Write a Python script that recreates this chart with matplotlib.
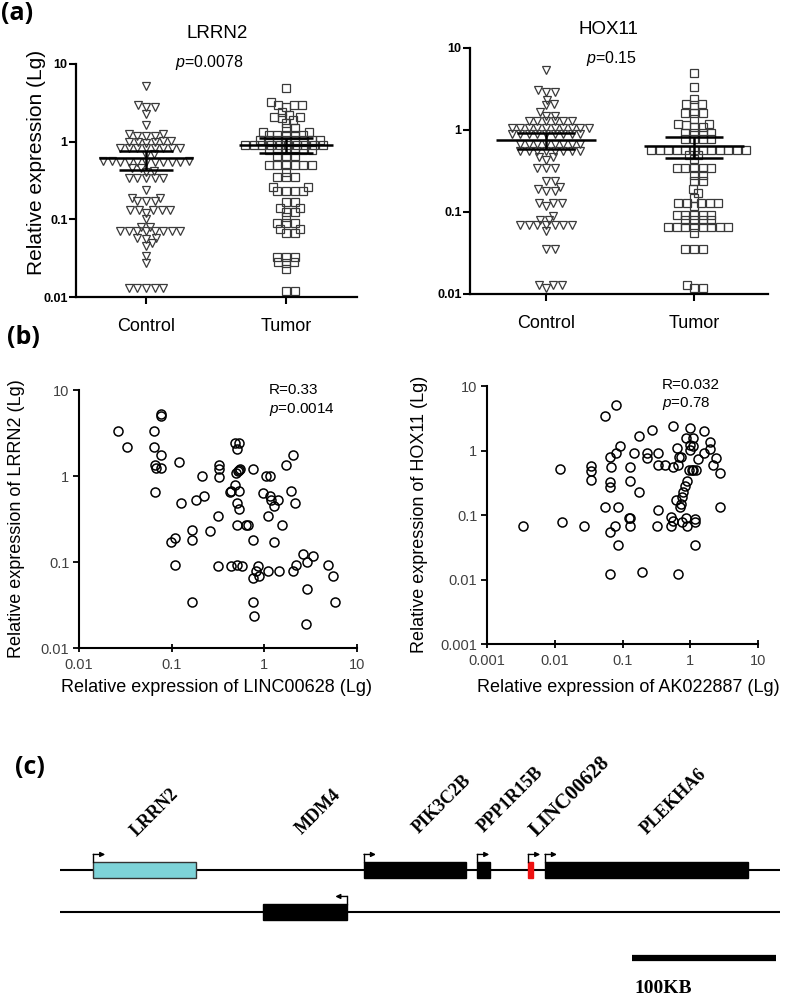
import matplotlib.pyplot as plt
import numpy as np
from matplotlib.patches import Rectangle
from matplotlib.ticker import NullLocator

plt.rcParams['font.family'] = ['Liberation Sans', 'DejaVu Sans']
plt.rcParams['mathtext.fontset'] = 'custom'
plt.rcParams['mathtext.it'] = 'Liberation Sans:italic'
plt.rcParams['mathtext.rm'] = 'Liberation Sans'

W, H = 787, 996

# ---------------- data ----------------
groups = ['Control', 'Tumor']

lrrn2_control = [5.2, 3.0, 2.8, 2.8, 2.3, 1.65,
                 1.25, 1.2, 1.2, 1.2, 1.25,
                 1.02, 1.0, 0.98, 1.0, 1.02, 0.97,
                 0.84, 0.83, 0.82, 0.84, 0.83, 0.82, 0.84, 0.83,
                 0.70, 0.68,
                 0.56, 0.55, 0.54, 0.55, 0.56, 0.55, 0.54, 0.55, 0.56, 0.55, 0.54,
                 0.46, 0.46, 0.42, 0.41,
                 0.34, 0.34, 0.34, 0.34, 0.34,
                 0.24, 0.19, 0.19, 0.17, 0.17, 0.17,
                 0.13, 0.13, 0.13, 0.13, 0.13, 0.12, 0.10,
                 0.08, 0.08,
                 0.07, 0.07, 0.07, 0.07, 0.07, 0.07, 0.07, 0.07,
                 0.057, 0.056, 0.057, 0.05, 0.045, 0.034, 0.027,
                 0.013, 0.013, 0.013, 0.013, 0.013]
lrrn2_tumor = [4.9, 3.2, 3.0, 3.0, 3.0, 2.8,
               2.4, 2.2, 2.1, 2.1, 2.0, 1.9,
               1.75, 1.5, 1.5, 1.35, 1.35,
               1.22, 1.22, 1.22, 1.22, 1.22,
               1.05, 1.05, 1.05, 1.05, 1.05, 1.05, 1.05, 1.05,
               0.9, 0.9, 0.9, 0.9, 0.9, 0.9, 0.9, 0.9, 0.9, 0.9,
               0.78, 0.78, 0.78, 0.78, 0.78, 0.78,
               0.66, 0.66, 0.66,
               0.5, 0.5, 0.5, 0.5, 0.5, 0.5,
               0.41, 0.35, 0.35, 0.35,
               0.26, 0.26, 0.23, 0.23, 0.23, 0.23,
               0.165, 0.165, 0.14, 0.14, 0.125, 0.125, 0.107,
               0.09, 0.09, 0.09, 0.075, 0.075, 0.067, 0.067,
               0.033, 0.033, 0.033, 0.028, 0.028, 0.027, 0.023,
               0.012, 0.012]
lrrn2_mean = [0.61, 0.90]
lrrn2_lo = [0.43, 0.72]
lrrn2_hi = [0.75, 1.13]

hox11_control = [5.35, 3.1, 2.9, 2.9, 2.3, 2.1, 2.0, 1.65, 1.5, 1.5,
                 1.3, 1.3, 1.3, 1.3, 1.3, 1.3,
                 1.05, 1.05, 1.05, 1.05, 1.05, 1.05, 1.05, 1.05, 1.05, 1.05,
                 0.9, 0.9, 0.9, 0.9, 0.9, 0.9, 0.9, 0.9, 0.9,
                 0.68, 0.68, 0.68, 0.68, 0.68, 0.68, 0.68, 0.68,
                 0.55, 0.55, 0.55, 0.55, 0.55, 0.55, 0.55, 0.55,
                 0.47, 0.47, 0.43,
                 0.34, 0.34, 0.34, 0.24, 0.24, 0.2, 0.19, 0.18, 0.18,
                 0.13, 0.13, 0.13, 0.12, 0.09, 0.08, 0.08,
                 0.07, 0.07, 0.07, 0.07, 0.07, 0.07, 0.07,
                 0.058, 0.035, 0.035, 0.013, 0.013, 0.013, 0.012]
hox11_tumor = [4.96, 3.3, 2.4, 2.1, 2.1, 2.0, 1.6, 1.6, 1.6,
               1.35, 1.2, 1.2, 1.15, 1.1, 1.1,
               0.92, 0.92, 0.92, 0.92, 0.78, 0.78, 0.78, 0.78,
               0.57, 0.57, 0.57, 0.57, 0.57, 0.57, 0.57, 0.57, 0.57, 0.57, 0.57, 0.57,
               0.5, 0.5, 0.44,
               0.34, 0.34, 0.34, 0.34, 0.34, 0.28, 0.28, 0.24, 0.24, 0.19, 0.17,
               0.15, 0.13, 0.13, 0.13, 0.13, 0.13, 0.12,
               0.093, 0.093, 0.093, 0.093, 0.093, 0.08, 0.08, 0.08, 0.08,
               0.066, 0.066, 0.066, 0.066, 0.066, 0.066, 0.066, 0.066,
               0.055, 0.035, 0.035, 0.035, 0.013, 0.012, 0.012]
hox11_mean = [0.75, 0.63]
hox11_lo = [0.59, 0.45]
hox11_hi = [0.93, 0.83]

linc_x = [0.0265, 0.0333, 0.0646, 0.0762, 0.0762, 0.0646, 0.0762, 0.0656, 0.0684, 0.0775,
          0.0656, 0.119, 0.127, 0.184, 0.214, 0.226, 0.0992, 0.108, 0.108, 0.166,
          0.166, 0.167, 0.262, 0.320, 0.328, 0.328, 0.328, 0.320, 0.439, 0.421,
          0.439, 0.505, 0.570, 0.487, 0.538, 0.505, 0.487, 0.496, 0.516, 0.538,
          0.552, 0.538, 0.505, 0.538, 0.505, 0.635, 0.662, 0.762, 0.762, 0.750,
          0.813, 0.847, 0.883, 0.762, 0.780, 0.959, 1.03, 1.15, 1.09, 1.15,
          1.18, 1.28, 1.42, 1.28, 1.55, 1.09, 1.43, 1.71, 2.05, 1.95,
          2.12, 2.02, 2.19, 2.63, 3.31, 2.92, 2.92, 2.81, 4.92, 5.57, 5.79]
lrrn2_y = [3.34, 2.20, 3.34, 5.22, 4.99, 2.20, 1.76, 1.35, 1.23, 1.23,
           0.644, 1.45, 0.484, 0.520, 1.00, 0.578, 0.171, 0.190, 0.0914, 0.233,
           0.178, 0.034, 0.231, 0.339, 1.35, 1.20, 0.986, 0.0891, 0.661, 0.644,
           0.0891, 0.0914, 0.0906, 2.40, 2.40, 2.08, 0.789, 1.08, 1.13, 1.18,
           1.20, 0.661, 0.484, 0.416, 0.271, 0.271, 0.271, 1.21, 0.182, 0.0652,
           0.078, 0.0891, 0.0683, 0.034, 0.0234, 0.632, 1.00, 1.00, 0.339, 0.578,
           0.529, 0.443, 0.529, 0.171, 0.271, 0.078, 0.078, 1.35, 1.76, 0.673,
           0.484, 0.078, 0.0914, 0.125, 0.119, 0.100, 0.0486, 0.0190, 0.0914, 0.0683, 0.034]

ak_x = [0.00341, 0.0120, 0.0130, 0.0269, 0.0338, 0.0338, 0.0338, 0.0551, 0.0793, 0.0653,
        0.0793, 0.0918, 0.0677, 0.0653, 0.0653, 0.0551, 0.0867, 0.0774, 0.0653, 0.0867,
        0.0653, 0.129, 0.129, 0.123, 0.130, 0.129, 0.150, 0.177, 0.177, 0.192,
        0.228, 0.228, 0.270, 0.339, 0.339, 0.339, 0.327, 0.426, 0.552, 0.552,
        0.516, 0.516, 0.552, 0.632, 0.655, 0.670, 0.619, 0.69, 0.735, 0.703,
        0.735, 0.751, 0.77, 0.841, 0.751, 0.871, 0.976, 0.91, 0.871, 0.91,
        0.95, 1.0, 1.0, 1.05, 1.1, 1.08, 1.08, 1.18, 1.18, 1.18,
        1.23, 1.32, 1.57, 1.61, 1.97, 1.97, 2.16, 2.42, 2.71, 2.71]
hox11_y = [0.0667, 0.525, 0.0778, 0.0667, 0.570, 0.478, 0.346, 3.42, 5.07, 0.798,
           0.921, 1.17, 0.557, 0.326, 0.272, 0.133, 0.133, 0.0667, 0.0545, 0.0337,
           0.0120, 0.557, 0.337, 0.0910, 0.0910, 0.0667, 0.921, 1.67, 0.228, 0.0130,
           0.921, 0.778, 2.07, 0.90, 0.591, 0.121, 0.0667, 0.591, 2.39, 0.557,
           0.0931, 0.0667, 0.080, 1.11, 0.591, 0.0120, 0.169, 0.798, 0.798, 0.133,
           0.150, 0.190, 0.228, 0.279, 0.0778, 1.57, 2.20, 0.337, 0.091, 0.0667,
           0.507, 1.01, 1.21, 0.507, 0.507, 1.57, 1.17, 0.0778, 0.087, 0.0337,
           0.507, 0.751, 0.921, 2.02, 1.36, 1.07, 0.591, 0.778, 0.45, 0.133]

genes = ['LRRN2', 'MDM4', 'PIK3C2B', 'PPP1R15B', 'LINC00628', 'PLEKHA6']
gene_start = [23.1, 140.8, 211.1, 289.8, 325.2, 336.8]   # kb
gene_end = [94.2, 199.5, 281.9, 298.6, 328.3, 478.0]
gene_strand = [1, -1, 1, 1, 1, 1]
gene_row = [0, 1, 0, 0, 0, 0]
locus_len = 500
scale_kb = 100

fig = plt.figure(figsize=(W / 100, H / 100), dpi=100)


def px_axes(x0, y0, x1, y1):
    return fig.add_axes([x0 / W, 1 - y1 / H, (x1 - x0) / W, (y1 - y0) / H])


def px_text(x, y, s, **kw):
    kw.setdefault('ha', 'center')
    kw.setdefault('va', 'center')
    fig.text(x / W, 1 - y / H, s, **kw)


def swarm(ax, xc, vals, dx_px, dy_px):
    # beeswarm in pixel space, elliptical footprint (tight rows like Prism)
    tr = ax.transData
    ys = tr.transform(np.column_stack([np.full(len(vals), xc), vals]))[:, 1]
    ys = ys * dx_px / dy_px
    d = dx_px
    px_per_unit = tr.transform((1, 1))[0] - tr.transform((0, 1))[0]
    placed = []
    offs = np.zeros(len(vals))
    for i in np.argsort(ys, kind='stable'):
        y = ys[i]
        cands = [0.0]
        for px_, py_ in placed:
            dy = y - py_
            if abs(dy) < d:
                dx = np.sqrt(d * d - dy * dy)
                cands += [px_ + dx, px_ - dx]
        cands.sort(key=abs)
        for c in cands:
            if all((c - px_) ** 2 + (y - py_) ** 2 >= d * d - 1e-6 for px_, py_ in placed):
                break
        placed.append((c, y))
        offs[i] = c
    return xc + offs / px_per_unit


def dot_panel(box, xlim, ctrl, tum, mean, lo, hi):
    ax = px_axes(*box)
    ax.set_yscale('log')
    ax.set_ylim(0.01, 10)
    ax.set_xlim(*xlim)
    for k, (vals, mk) in enumerate([(ctrl, 'v'), (tum, 's')]):
        xs = swarm(ax, k, vals, 8.6, 5.0)
        ax.plot(xs, vals, ls='none', marker=mk, ms=6, mfc='none', mec='#3a3a3a', mew=0.9)
        ax.hlines(mean[k], k - 0.335, k + 0.335, color='k', lw=1.8, zorder=3)
        ax.hlines([lo[k], hi[k]], k - 0.195, k + 0.195, color='k', lw=1.8, zorder=3)
        ax.vlines(k, lo[k], hi[k], color='k', lw=1.8, zorder=3)
    for s in ['top', 'right']:
        ax.spines[s].set_visible(False)
    for s in ['left', 'bottom']:
        ax.spines[s].set_linewidth(1.6)
    ax.set_xticks([0, 1])
    ax.set_xticklabels(groups, fontsize=13)
    ax.set_yticks([0.01, 0.1, 1, 10])
    ax.set_yticklabels(['0.01', '0.1', '1', '10'], fontweight='bold', fontsize=9)
    ax.yaxis.set_minor_locator(NullLocator())
    ax.tick_params(axis='both', length=5, width=1.5)
    ax.tick_params(axis='x', pad=10)
    ax.tick_params(axis='y', pad=1)
    return ax


def scatter_panel(box, lo_lim, xs, ys):
    ax = px_axes(*box)
    ax.set_xscale('log')
    ax.set_yscale('log')
    ax.set_xlim(lo_lim, 10)
    ax.set_ylim(lo_lim, 10)
    ax.plot(xs, ys, ls='none', marker='o', ms=6.5, mfc='none', mec='k', mew=1.1)
    for s in ['top', 'right']:
        ax.spines[s].set_visible(False)
    for s in ['left', 'bottom']:
        ax.spines[s].set_linewidth(1.5)
    ticks = [10.0 ** e for e in range(int(round(np.log10(lo_lim))), 2)]
    labels = ['%g' % t for t in ticks]
    ax.set_xticks(ticks)
    ax.set_xticklabels(labels)
    ax.set_yticks(ticks)
    ax.set_yticklabels(labels)
    ax.xaxis.set_minor_locator(NullLocator())
    ax.yaxis.set_minor_locator(NullLocator())
    ax.tick_params(labelsize=10.5, labelcolor='#404040', width=1.3)
    ax.tick_params(axis='x', direction='inout', length=6, pad=4)
    ax.tick_params(axis='y', direction='out', length=4, pad=3)
    return ax


# ---------------- (a) ----------------
dot_panel((76, 64, 357, 297), (-0.5, 1.507), lrrn2_control, lrrn2_tumor,
          lrrn2_mean, lrrn2_lo, lrrn2_hi)
dot_panel((470, 48, 768, 294), (-0.514, 1.5), hox11_control, hox11_tumor,
          hox11_mean, hox11_lo, hox11_hi)
px_text(217, 33, 'LRRN2', fontsize=13.5)
px_text(209, 63, '$p$=0.0078', fontsize=11.5)
px_text(608, 30, 'HOX11', fontsize=13.5)
px_text(612, 58, '$p$=0.15', fontsize=11.5)
px_text(37, 162, 'Relative expression (Lg)', rotation=90, fontsize=15)

# ---------------- (b) ----------------
scatter_panel((79, 390, 357, 648), 0.01, linc_x, lrrn2_y)
scatter_panel((487, 386, 758, 644), 0.001, ak_x, hox11_y)
px_text(17, 519, 'Relative expression of LRRN2 (Lg)', rotation=90, fontsize=13)
px_text(216, 687, 'Relative expression of LINC00628 (Lg)', fontsize=13)
px_text(420, 514, 'Relative expression of HOX11 (Lg)', rotation=90, fontsize=13)
px_text(628, 687, 'Relative expression of AK022887 (Lg)', fontsize=13)
px_text(269, 390, 'R=0.33', fontsize=11, ha='left')
px_text(269, 409, '$p$=0.0014', fontsize=11, ha='left')
px_text(662, 385, 'R=0.032', fontsize=11, ha='left')
px_text(662, 403, '$p$=0.78', fontsize=11, ha='left')

# ---------------- (c) ----------------
axc = px_axes(60, 750, 780, 1000)
row_px = 42.0
axc.set_xlim(0, locus_len)
axc.set_ylim((1000 - 870) / row_px, (750 - 870) / row_px)
axc.axis('off')
for r in [0, 1]:
    axc.plot([0, locus_len], [r, r], color='k', lw=1.5, zorder=1)
colors = ['#7dd3d8', 'black', 'black', 'black', '#ee1111', 'black']
edges = ['#333333', 'black', 'black', 'black', '#ee1111', 'black']
bh = 0.2
rise = 0.17
for g, s, e, st, r, fc, ec in zip(genes, gene_start, gene_end, gene_strand, gene_row, colors, edges):
    axc.add_patch(Rectangle((s, r - bh), e - s, 2 * bh, facecolor=fc, edgecolor=ec, lw=1, zorder=2))
    x0 = s if st > 0 else e
    top = r - bh - rise
    axc.plot([x0, x0], [r - bh, top], color='k', lw=1, zorder=3)
    axc.annotate('', xy=(x0 + st * 8.3, top), xytext=(x0, top),
                 arrowprops=dict(arrowstyle='-|>', color='k', lw=1, mutation_scale=7,
                                 shrinkA=0, shrinkB=0))
label_x = [66, 179, 265, 313, 354, 426]
label_y = [-1.36, -1.39, -1.57, -1.67, -1.74, -1.63]
label_fs = [13, 13, 13, 13, 15, 13]
for g, lx, ly, fs in zip(genes, label_x, label_y, label_fs):
    axc.text(lx, ly, g, rotation=45, ha='center', va='center', fontsize=fs,
             fontweight='bold', family='Liberation Serif')
sb0 = locus_len - 103
axc.plot([sb0, sb0 + scale_kb], [2.095, 2.095], color='k', lw=4.5, solid_capstyle='butt')
axc.text(sb0 + 2, 2.81, '100KB', ha='left', va='center', fontsize=14,
         fontweight='bold', family='Liberation Serif')

# panel letters
px_text(17, 13, '(a)', fontsize=18, fontweight='bold', family='Open Sans')
px_text(23, 337, '(b)', fontsize=18, fontweight='bold', family='Open Sans')
px_text(30, 767, '(c)', fontsize=18, fontweight='bold', family='Open Sans')

fig.savefig('out.png', dpi=100)
